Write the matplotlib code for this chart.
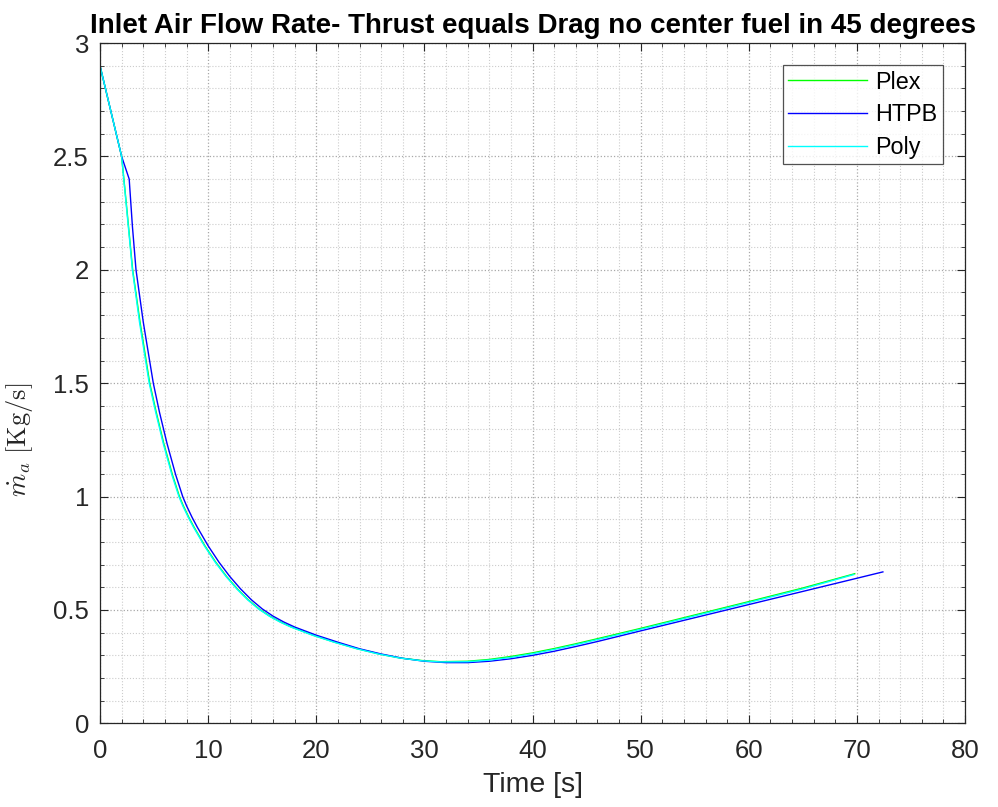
import numpy as np
import matplotlib
matplotlib.use('Agg')
import matplotlib.pyplot as plt
from matplotlib.ticker import MultipleLocator

# Values
plex_t = [0, 1, 2, 2.5, 3.02, 3.7, 4.6, 5.2, 5.9, 6.7, 7.35, 7.7, 8.2, 8.7, 9.7, 10.7,
          11.7, 12.7, 13.7, 14.7, 15.7, 16.7, 17.7, 19.7, 21.7, 23.8, 25.8, 27.8, 29.8,
          31.5, 34, 36, 38, 40, 42, 44, 46.5, 50, 55, 60, 65, 69.8]
plex_m = [2.9, 2.7, 2.5, 2.26, 2.0, 1.77, 1.5, 1.372, 1.234, 1.096, 1.0, 0.96, 0.91,
          0.865, 0.783, 0.711, 0.648, 0.593, 0.545, 0.505, 0.473, 0.447, 0.425, 0.389,
          0.358, 0.329, 0.306, 0.288, 0.277, 0.272, 0.274, 0.282, 0.295, 0.311, 0.330,
          0.351, 0.379, 0.419, 0.478, 0.537, 0.597, 0.66]

htpb_t = [0, 1, 2, 2.7, 3.0, 3.33, 4.0, 4.93, 5.5, 6.2, 7.0, 7.65, 8.0, 8.5, 9.0, 10,
          11, 12, 13, 14, 15, 16, 17, 18, 20, 22, 24, 26, 28, 30, 32, 34, 36, 38, 40,
          42, 44, 46, 50, 55, 60, 65, 70, 72.4]
htpb_m = [2.9, 2.7, 2.5, 2.40, 2.19, 2.0, 1.77, 1.5, 1.372, 1.234, 1.096, 1.0, 0.96,
          0.91, 0.865, 0.783, 0.711, 0.648, 0.593, 0.545, 0.505, 0.473, 0.447, 0.425,
          0.389, 0.358, 0.329, 0.306, 0.287, 0.274, 0.268, 0.268, 0.274, 0.285, 0.300,
          0.318, 0.339, 0.361, 0.408, 0.466, 0.524, 0.582, 0.640, 0.668]

poly_t = [0, 1, 2, 2.5, 3.0, 3.65, 4.55, 5.15, 5.85, 6.65, 7.3, 7.65, 8.15, 8.65,
          9.65, 10.65, 11.65, 12.65, 13.65, 14.65, 15.65, 16.65, 17.65, 19.65, 21.65,
          23.75, 25.75, 27.75, 29.75, 31.5, 34, 36, 38, 40, 42, 44, 46.5, 50, 55, 60,
          65, 69.7]
poly_m = [2.9, 2.7, 2.5, 2.25, 2.0, 1.77, 1.5, 1.372, 1.234, 1.096, 1.0, 0.96, 0.91,
          0.865, 0.783, 0.711, 0.648, 0.593, 0.545, 0.505, 0.473, 0.447, 0.425, 0.389,
          0.358, 0.329, 0.306, 0.288, 0.276, 0.271, 0.272, 0.279, 0.291, 0.307, 0.326,
          0.347, 0.375, 0.415, 0.474, 0.533, 0.593, 0.656]

series = [("Plex", plex_t, plex_m, "#00ff00"),
          ("HTPB", htpb_t, htpb_m, "#0000ff"),
          ("Poly", poly_t, poly_m, "#00ffff")]

plt.rcParams['font.family'] = ['Liberation Sans', 'DejaVu Sans']
plt.rcParams['mathtext.fontset'] = 'cm'

fig = plt.figure(figsize=(9.98, 8.07), dpi=100)
ax = fig.add_axes([0.1002, 0.1036, 0.8668, 0.8431])

for name, t, m, col in series:
    ax.plot(t, m, color=col, linewidth=1.0, label=name)

ax.set_xlim(0, 80)
ax.set_ylim(0, 3)
ax.xaxis.set_major_locator(MultipleLocator(10))
ax.xaxis.set_minor_locator(MultipleLocator(2))
ax.yaxis.set_major_locator(MultipleLocator(0.5))
ax.yaxis.set_minor_locator(MultipleLocator(0.1))
ax.set_yticks([0, 0.5, 1, 1.5, 2, 2.5, 3])
ax.set_yticklabels(["0", "0.5", "1", "1.5", "2", "2.5", "3"])

ax.grid(which='major', linestyle=':', color='#a8a8a8', linewidth=0.9)
ax.grid(which='minor', linestyle=':', color='#cccccc', linewidth=0.8)
ax.set_axisbelow(True)

for s in ax.spines.values():
    s.set_color('#262626')
    s.set_linewidth(0.9)
ax.tick_params(which='both', direction='in', top=True, right=True,
               colors='#262626', labelsize=18.5)
ax.tick_params(which='major', length=6)
ax.tick_params(which='minor', length=3)
ax.tick_params(axis='x', pad=11)
ax.tick_params(axis='y', pad=8)

ax.set_xlabel("Time [s]", fontsize=20.5, color='#262626', labelpad=6.5)
ax.set_ylabel(r"$\dot{m}_a\ [\mathrm{Kg/s}]$", fontsize=19, color='#262626')
ax.yaxis.set_label_coords(-0.075, 0.4165)
ax.set_title("Inlet Air Flow Rate- Thrust equals Drag no center fuel in 45 degrees",
             fontsize=20, fontweight='bold', pad=7)

leg = ax.legend(loc='upper right', fontsize=16.8, handlelength=3.4, frameon=True,
                fancybox=False, edgecolor='#262626', borderaxespad=0.95,
                labelspacing=0.41, handletextpad=0.35, borderpad=0.23)
leg.get_frame().set_linewidth(0.9)

fig.savefig("out.png", dpi=100)
